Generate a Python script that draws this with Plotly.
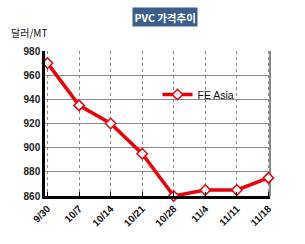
import plotly.graph_objects as go

dates = ["9/30", "10/7", "10/14", "10/21", "10/28", "11/4", "11/11", "11/18"]
fe_asia = [970, 935, 920, 895, 860, 865, 865, 875]
y_ticks = [860, 880, 900, 920, 940, 960, 980]

FONT = "Liberation Sans, Arial, Noto Sans CJK KR, sans-serif"
KFONT = "Noto Sans CJK KR, Liberation Sans, sans-serif"
RED = "#e8000b"

fig = go.Figure()
fig.add_trace(go.Scatter(
    x=list(range(len(dates))), y=fe_asia, mode="lines+markers", name="FE Asia",
    line=dict(color=RED, width=3.5),
    marker=dict(symbol="diamond", size=8, color="white", line=dict(color=RED, width=1.5)),
    cliponaxis=False,
))

fig.update_layout(
    width=305, height=244,
    margin=dict(l=45, r=35, t=51, b=48),
    paper_bgcolor="white", plot_bgcolor="white",
    showlegend=True,
    legend=dict(x=0.5, y=0.70, xanchor="left", yanchor="middle",
                bgcolor="rgba(0,0,0,0)", borderwidth=0,
                font=dict(family=FONT, size=10.5, color="#111"),
                itemwidth=30, tracegroupgap=0),
    font=dict(family=FONT),
)

fig.update_xaxes(
    range=[-0.08, 7.05], tickmode="array", tickvals=list(range(len(dates))), ticktext=dates,
    tickangle=-45, tickfont=dict(family=FONT, size=10, color="#111", weight="bold"),
    showgrid=True, gridcolor="#8a8a8a", griddash="dot", gridwidth=1,
    showline=True, linecolor="black", linewidth=3,
    ticks="inside", ticklen=4, tickcolor="black", tickwidth=1,
    zeroline=False, fixedrange=True,
)
fig.update_yaxes(
    range=[860, 980], tickmode="array", tickvals=y_ticks,
    tickfont=dict(family=FONT, size=10, color="#222", weight="bold"),
    showgrid=True, gridcolor="#8a8a8a", gridwidth=1,
    showline=True, linecolor="black", linewidth=2.5,
    ticks="", zeroline=False, fixedrange=True,
)

# right gray border and legend white backing
fig.add_shape(type="line", xref="paper", yref="paper", x0=1, x1=1, y0=0, y1=1,
              line=dict(color="#8a8a8a", width=2), layer="below")
fig.add_shape(type="rect", xref="paper", yref="paper", x0=0.46, x1=0.965, y0=0.60, y1=0.80,
              fillcolor="white", line=dict(width=0), layer="below")

fig.add_annotation(text="<b>PVC 가격추이</b>", xref="paper", yref="paper", x=0.535, y=1.0,
                   yshift=34, xanchor="center", yanchor="middle", showarrow=False,
                   font=dict(family=KFONT, size=10.5, color="white"),
                   bgcolor="#3b5e8c", borderpad=1.5)
fig.add_annotation(text="달러/MT", xref="paper", yref="paper", x=0, y=1.0,
                   xshift=-36, yshift=19, xanchor="left", yanchor="middle", showarrow=False,
                   font=dict(family=KFONT, size=10, color="#111"))

fig.write_html("out.html")
